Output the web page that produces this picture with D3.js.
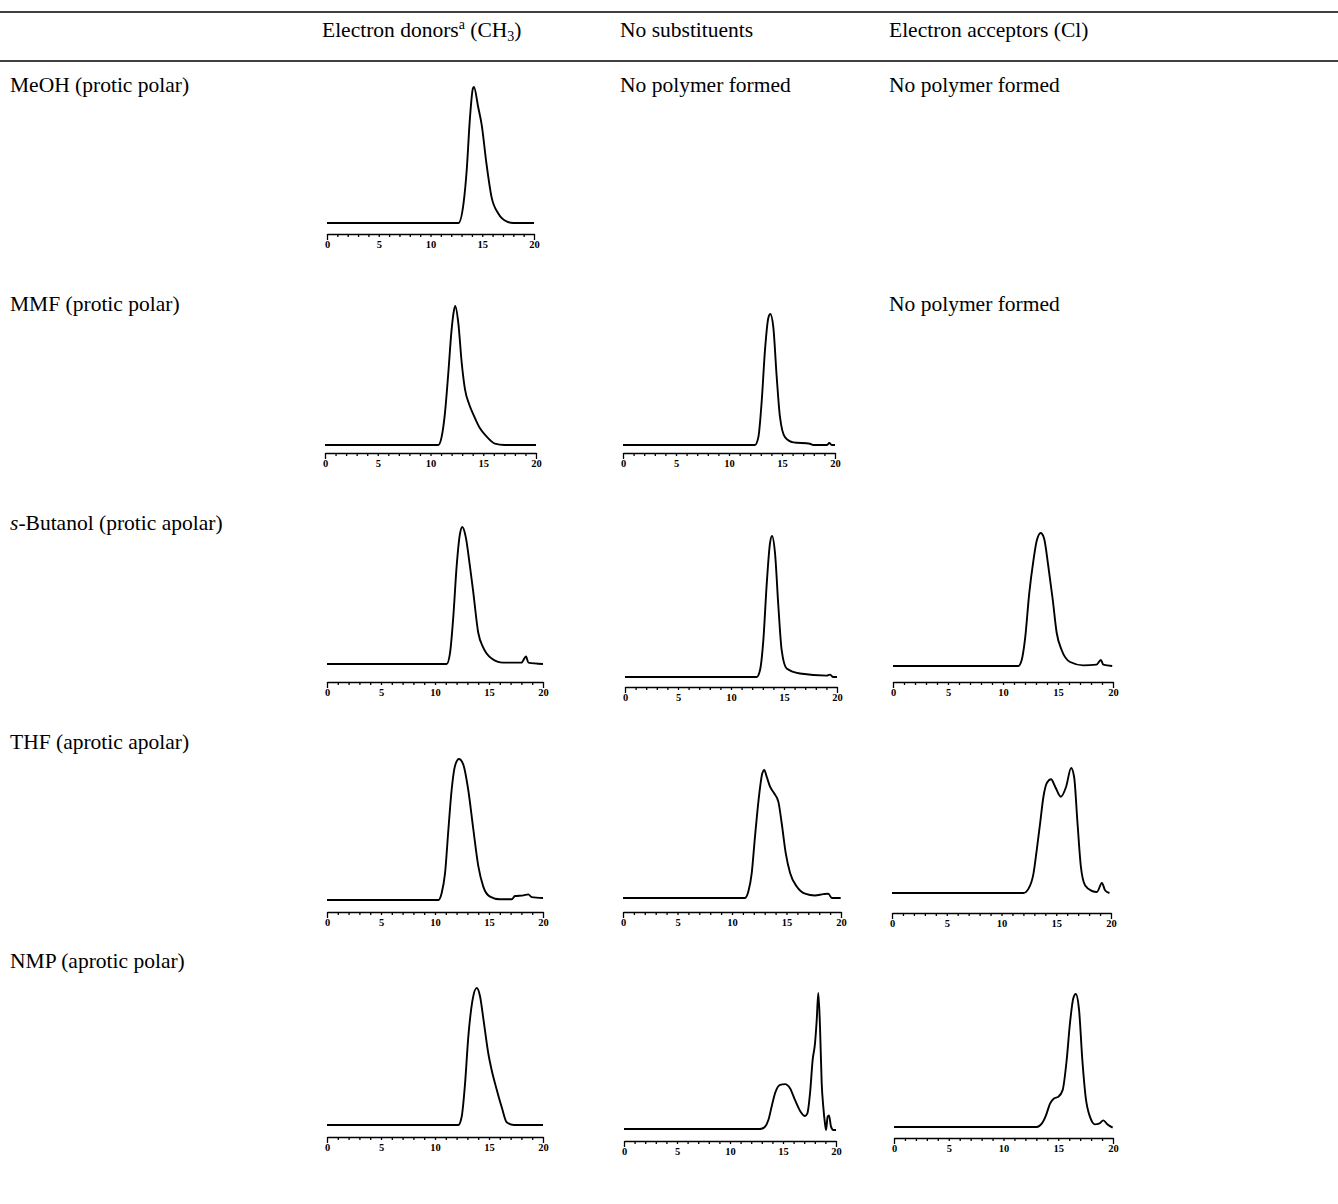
<!DOCTYPE html>
<html><head><meta charset="utf-8">
<script src="https://cdn.jsdelivr.net/npm/d3@7"></script>
<style>body{margin:0;background:#fff} svg{display:block}</style>
</head><body><svg id="c" width="1338" height="1204"></svg>
<script>
// ---------------- DATA ----------------
const solvents = ["MeOH (protic polar)", "MMF (protic polar)", "s-Butanol (protic apolar)", "THF (aprotic apolar)", "NMP (aprotic polar)"];
const columnHeads = ["Electron donors", "No substituents", "Electron acceptors (Cl)"];
const noPolymerText = "No polymer formed";
const tickLabels = [0, 5, 10, 15, 20];
const minorTicks = [0,1,2,3,4,5,6,7,8,9,10,11,12,13,14,15,16,17,18,19,20];

// retention time (min), normalised detector response (0 = baseline, 1 = tallest peak)
const meohCH3 = [[0,0],[12.7,0],[13.2,0.15],[13.5,0.39],[13.8,0.76],[14.1,0.99],[14.2,1],[14.6,0.855],[14.95,0.72],[15.4,0.44],[15.9,0.19],[16.55,0.07],[17.4,0.01],[18,0],[20,0]];
const mmfCH3 = [[0,0],[10.74,0],[11.06,0.06],[11.37,0.23],[11.69,0.52],[12.0,0.83],[12.23,0.97],[12.35,1],[12.64,0.875],[12.96,0.59],[13.27,0.40],[13.68,0.29],[14.06,0.22],[14.69,0.12],[15.33,0.06],[16.1,0.01],[17,0],[20,0]];
const mmfNone = [[0,0],[12.45,0],[12.77,0.06],[13.09,0.34],[13.4,0.73],[13.71,0.97],[13.9,1],[14.18,0.9],[14.5,0.52],[14.8,0.22],[15.28,0.06],[16.07,0.02],[17.64,0.01],[17.95,0],[19.22,0],[19.47,0.015],[19.69,0],[20,0]];
const butCH3 = [[0,0],[11.08,0],[11.39,0.08],[11.7,0.35],[12.0,0.71],[12.31,0.95],[12.53,1],[12.84,0.93],[13.24,0.71],[13.55,0.52],[14.0,0.23],[14.47,0.12],[15.25,0.04],[16.3,0.01],[18.0,0.01],[18.43,0.055],[18.64,0.01],[20,0]];
const butNone = [[0,0],[12.42,0],[12.74,0.05],[13.05,0.26],[13.37,0.66],[13.68,0.95],[13.87,1],[14.15,0.88],[14.47,0.5],[14.78,0.19],[15.25,0.06],[16.5,0.025],[19.03,0.01],[19.34,0.017],[19.65,0],[20,0]];
const butCl = [[0,0],[11.4,0],[11.7,0.045],[12.0,0.2],[12.39,0.55],[12.76,0.79],[13.06,0.94],[13.43,1],[13.73,0.96],[14.12,0.75],[14.52,0.5],[14.88,0.25],[15.33,0.12],[16.1,0.03],[17.3,0.005],[18.5,0.01],[18.9,0.045],[19.12,0.01],[19.93,0]];
const thfCH3 = [[0,0],[10.31,0],[10.62,0.05],[10.93,0.19],[11.24,0.5],[11.54,0.78],[11.85,0.95],[12.22,1],[12.62,0.96],[13.08,0.78],[13.55,0.5],[14.01,0.24],[14.47,0.095],[15.09,0.024],[16.0,0.005],[17.1,0.005],[17.4,0.028],[18.2,0.033],[18.64,0.04],[18.95,0.02],[20,0.014]];
const thfNone = [[0,0],[11.19,0],[11.5,0.05],[11.81,0.195],[12.11,0.48],[12.51,0.82],[12.78,0.974],[12.96,1],[13.18,0.948],[13.49,0.87],[13.85,0.82],[14.25,0.753],[14.56,0.584],[14.93,0.35],[15.33,0.195],[15.94,0.09],[16.7,0.034],[17.6,0.02],[18.38,0.03],[18.84,0.034],[19.15,0],[19.97,0]];
const thfCl = [[0,0],[12.0,0],[12.47,0.035],[12.92,0.155],[13.22,0.345],[13.53,0.56],[13.83,0.77],[14.14,0.88],[14.53,0.91],[14.9,0.85],[15.42,0.77],[15.9,0.85],[16.36,1],[16.63,0.93],[16.94,0.56],[17.25,0.21],[17.64,0.06],[18.26,0.016],[18.71,0.008],[19.17,0.08],[19.47,0.02],[19.86,0]];
const nmpCH3 = [[0,0],[12.16,0],[12.47,0.06],[12.78,0.3],[13.08,0.64],[13.45,0.9],[13.86,1],[14.17,0.94],[14.47,0.78],[14.94,0.52],[15.25,0.4],[15.71,0.26],[16.18,0.13],[16.64,0.02],[17.3,0],[20,0]];
const nmpNone = [[0,0],[12.83,0],[13.3,0.017],[13.62,0.066],[13.93,0.165],[14.25,0.263],[14.72,0.324],[15.19,0.33],[15.66,0.3],[16.13,0.214],[16.6,0.135],[17.08,0.096],[17.3,0.115],[17.55,0.263],[17.8,0.51],[18.02,0.63],[18.18,0.8],[18.33,1],[18.49,0.754],[18.65,0.337],[18.8,0.165],[18.96,0.042],[19.06,-0.007],[19.21,0.09],[19.34,0.1],[19.53,0.017],[19.75,-0.007],[20,-0.007]];
const nmpCl = [[0,0],[13.03,0],[13.49,0.025],[13.88,0.088],[14.25,0.176],[14.61,0.214],[15.01,0.227],[15.4,0.277],[15.77,0.504],[16.07,0.78],[16.38,0.97],[16.6,1],[16.9,0.88],[17.2,0.504],[17.5,0.227],[17.9,0.076],[18.36,0.02],[18.72,0.025],[19.12,0.05],[19.48,0.02],[19.97,-0.005]];

// ---------------- LAYOUT ----------------
const W = 1338, H = 1204;
const FONT = "'Liberation Serif','Times New Roman',serif";
const FS = 21.5;
const rowBase = [92, 311, 530, 749, 968];
const colX = [10, 322, 620, 889];
// panel placement: data, pixel box (x0,x1 for 0..20; yPeak, yBase, yAxis)
const panels = [
  {data: meohCH3, x0: 327, x1: 534, yPeak: 87,  yBase: 223,  yAxis: 234},
  {data: mmfCH3,  x0: 325, x1: 536, yPeak: 306, yBase: 445,  yAxis: 453},
  {data: mmfNone, x0: 623, x1: 835, yPeak: 314, yBase: 445,  yAxis: 453},
  {data: butCH3,  x0: 327, x1: 543, yPeak: 527, yBase: 664,  yAxis: 682},
  {data: butNone, x0: 625, x1: 837, yPeak: 536, yBase: 677,  yAxis: 687},
  {data: butCl,   x0: 893, x1: 1113, yPeak: 533, yBase: 666, yAxis: 682},
  {data: thfCH3,  x0: 327, x1: 543, yPeak: 759, yBase: 900,  yAxis: 912},
  {data: thfNone, x0: 623, x1: 841, yPeak: 770, yBase: 898,  yAxis: 912},
  {data: thfCl,   x0: 892, x1: 1111, yPeak: 768, yBase: 893, yAxis: 913},
  {data: nmpCH3,  x0: 327, x1: 543, yPeak: 988, yBase: 1125, yAxis: 1137},
  {data: nmpNone, x0: 624, x1: 836, yPeak: 993, yBase: 1129, yAxis: 1141},
  {data: nmpCl,   x0: 894, x1: 1113, yPeak: 994, yBase: 1127, yAxis: 1138}
];
const noPolymerCells = [[0, 2], [0, 3], [1, 3]]; // [row, column index in colX]

const svg = d3.select("#c");
svg.append("rect").attr("width", W).attr("height", H).attr("fill", "#fff");

// table rules
svg.append("line").attr("x1", 0).attr("x2", W).attr("y1", 12).attr("y2", 12)
  .attr("stroke", "#000").attr("stroke-width", 1.5);
svg.append("line").attr("x1", 0).attr("x2", W).attr("y1", 61).attr("y2", 61)
  .attr("stroke", "#000").attr("stroke-width", 1.5);

const txt = (x, y) => svg.append("text").attr("x", x).attr("y", y)
  .attr("font-family", FONT).attr("font-size", FS).attr("fill", "#000");

// header
const h1 = txt(colX[1], 37);
h1.append("tspan").text(columnHeads[0]);
h1.append("tspan").attr("font-size", 14).attr("dy", -8).text("a");
h1.append("tspan").attr("dy", 8).text(" (CH");
h1.append("tspan").attr("font-size", 14).attr("dy", 4).text("3");
h1.append("tspan").attr("dy", -4).text(")");
txt(colX[2], 37).text(columnHeads[1]);
txt(colX[3], 37).text(columnHeads[2]);

// row labels
solvents.forEach((s, i) => {
  const t = txt(colX[0], rowBase[i]);
  if (s.startsWith("s-")) {
    t.append("tspan").attr("font-style", "italic").text("s");
    t.append("tspan").text(s.slice(1));
  } else t.text(s);
});

noPolymerCells.forEach(([r, c]) => txt(colX[c], rowBase[r]).text(noPolymerText));

// chromatograms
panels.forEach(p => {
  const x = d3.scaleLinear().domain([0, 20]).range([p.x0, p.x1]);
  const y = d3.scaleLinear().domain([0, 1]).range([p.yBase, p.yPeak]);
  const g = svg.append("g");
  g.append("path").datum(p.data)
    .attr("d", d3.line().x(d => x(d[0])).y(d => y(d[1])).curve(d3.curveMonotoneX))
    .attr("fill", "none").attr("stroke", "#000").attr("stroke-width", 1.9)
    .attr("stroke-linejoin", "round");

  const ax = g.append("g").attr("transform", `translate(0,${p.yAxis})`)
    .call(d3.axisBottom(x).tickValues(minorTicks).tickSize(3).tickSizeOuter(0)
      .tickFormat(d => tickLabels.includes(d) ? d : ""));
  ax.select(".domain").attr("stroke", "#000").attr("stroke-width", 1.5);
  ax.selectAll(".tick line").attr("stroke", "#000").attr("stroke-width", 1.3)
    .attr("y2", d => (d === 0 || d === 20) ? 6 : 3);
  ax.selectAll(".tick text").attr("font-family", FONT).attr("font-size", 10.5)
    .attr("font-weight", "bold").attr("fill", "#000").attr("y", 7).attr("dy", "0.71em");
});
</script></body></html>
